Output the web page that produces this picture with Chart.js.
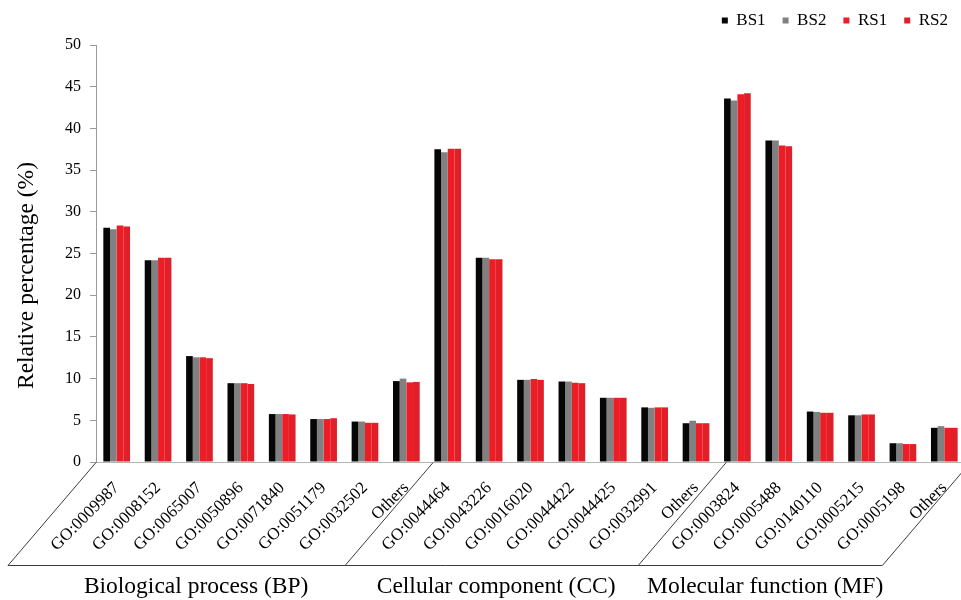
<!DOCTYPE html>
<html>
<head>
<meta charset="utf-8">
<script src="https://cdn.jsdelivr.net/npm/chart.js@4/dist/chart.umd.min.js"></script>
<style>
  html, body { margin: 0; padding: 0; background: #fff; overflow: hidden; }
  #wrap { width: 966px; height: 600px; }
</style>
</head>
<body>
<div id="wrap"><canvas id="chart" width="966" height="600"></canvas></div>
<script>
// GO terms, grouped BP (8), CC (7), MF (6)
const categories = [
  'GO:0009987', 'GO:0008152', 'GO:0065007', 'GO:0050896', 'GO:0071840', 'GO:0051179', 'GO:0032502', 'Others',
  'GO:0044464', 'GO:0043226', 'GO:0016020', 'GO:0044422', 'GO:0044425', 'GO:0032991', 'Others',
  'GO:0003824', 'GO:0005488', 'GO:0140110', 'GO:0005215', 'GO:0005198', 'Others'
];

// Relative percentage (%) per sample
const BS1 = [28.1, 24.2, 12.7, 9.45, 5.75, 5.15, 4.85, 9.7,  37.5, 24.5, 9.85, 9.65, 7.7, 6.55, 4.65, 43.6, 38.55, 6.05, 5.6, 2.25, 4.1];
const BS2 = [27.9, 24.2, 12.55, 9.45, 5.75, 5.15, 4.85, 10.0, 37.15, 24.5, 9.85, 9.65, 7.7, 6.5, 4.95, 43.35, 38.55, 6.0, 5.6, 2.25, 4.3];
const RS1 = [28.35, 24.5, 12.55, 9.45, 5.75, 5.15, 4.7, 9.55, 37.55, 24.3, 9.95, 9.5, 7.7, 6.55, 4.65, 44.1, 37.95, 5.9, 5.7, 2.15, 4.1];
const RS2 = [28.25, 24.5, 12.45, 9.35, 5.7, 5.25, 4.7, 9.6, 37.55, 24.3, 9.85, 9.45, 7.7, 6.55, 4.65, 44.2, 37.85, 5.9, 5.7, 2.15, 4.1];

const seriesNames = ['BS1', 'BS2', 'RS1', 'RS2'];
const seriesColors = ['#060606', '#808080', '#ee1c25', '#e01f29'];

const groupNames = ['Biological process (BP)', 'Cellular component (CC)', 'Molecular function (MF)'];

const yMin = 0, yMax = 50, yStep = 5;

const SERIF = "'Liberation Serif', 'Times New Roman', serif";

// Draws the slanted floor under the category axis, the group captions and the y title
const floorPlugin = {
  id: 'floor',
  afterLayout(chart) {
    const lg = chart.legend;
    if (lg) { lg.top -= 6; lg.bottom -= 6; }
  },
  afterDraw(chart, args, opts) {
    const ctx = chart.ctx;
    const xs = chart.scales.x;
    const area = chart.chartArea;
    const y0 = area.bottom;
    const yb = y0 + opts.depthY;
    ctx.save();
    ctx.strokeStyle = '#3c3c3c';
    ctx.lineWidth = 1;
    ctx.beginPath();
    const tops = opts.edges.map(v => xs.getPixelForValue(v));
    tops.forEach(px => {
      ctx.moveTo(px, y0 + 0.5);
      ctx.lineTo(px + opts.depthX, yb + 0.5);
    });
    ctx.moveTo(tops[0] + opts.depthX, yb + 0.5);
    ctx.lineTo(tops[tops.length - 1] + opts.depthX, yb + 0.5);
    ctx.stroke();

    ctx.fillStyle = '#000';
    ctx.font = '23.5px ' + SERIF;
    ctx.textAlign = 'center';
    ctx.textBaseline = 'middle';
    groupNames.forEach((name, i) => {
      ctx.fillText(name, xs.getPixelForValue(opts.captionAt[i]), y0 + opts.captionY);
    });

    ctx.translate(opts.titleX, (area.top + area.bottom) / 2 + opts.titleShift);
    ctx.rotate(-Math.PI / 2);
    ctx.fillText('Relative percentage (%)', 0, 0);
    ctx.restore();
  }
};

const datasets = [BS1, BS2, RS1, RS2].map((values, i) => ({
  label: seriesNames[i],
  data: values,
  backgroundColor: seriesColors[i],
  borderWidth: 0,
  categoryPercentage: 0.645,
  barPercentage: 1.0
}));

new Chart(document.getElementById('chart'), {
  type: 'bar',
  data: { labels: categories, datasets },
  plugins: [floorPlugin],
  options: {
    responsive: false,
    animation: false,
    devicePixelRatio: 1,
    layout: { padding: { top: 1, right: 1, left: 0, bottom: 0 } },
    plugins: {
      tooltip: { enabled: false },
      legend: {
        position: 'top',
        align: 'end',
        labels: {
          boxWidth: 6,
          boxHeight: 6,
          padding: 17,
          color: '#000',
          font: { family: SERIF, size: 17 }
        }
      },
      floor: {
        edges: [-0.5, 7.646, 14.73, 20.63],
        depthX: -88,
        depthY: 103,
        captionAt: [1.92, 9.17, 15.67],
        captionY: 125,
        titleX: 27,
        titleShift: 22
      }
    },
    scales: {
      x: {
        offset: true,
        grid: { display: false, drawTicks: false },
        border: { display: true, color: '#b4b4b4', width: 1 },
        ticks: {
          autoSkip: false,
          maxRotation: 45,
          minRotation: 45,
          padding: 16,
          color: '#000',
          font: { family: SERIF, size: 17 }
        },
        afterFit(s) { s.height = 138; s.paddingLeft = 0; s.paddingRight = 0; }
      },
      y: {
        min: yMin,
        max: yMax,
        ticks: {
          stepSize: yStep,
          padding: 9,
          color: '#000',
          font: { family: SERIF, size: 16 }
        },
        grid: { drawOnChartArea: false, drawTicks: true, tickLength: 6, color: '#9a9a9a' },
        border: { display: true, color: '#9a9a9a', width: 1 },
        afterFit(s) { s.width = 96; }
      }
    }
  }
});
</script>
</body>
</html>
